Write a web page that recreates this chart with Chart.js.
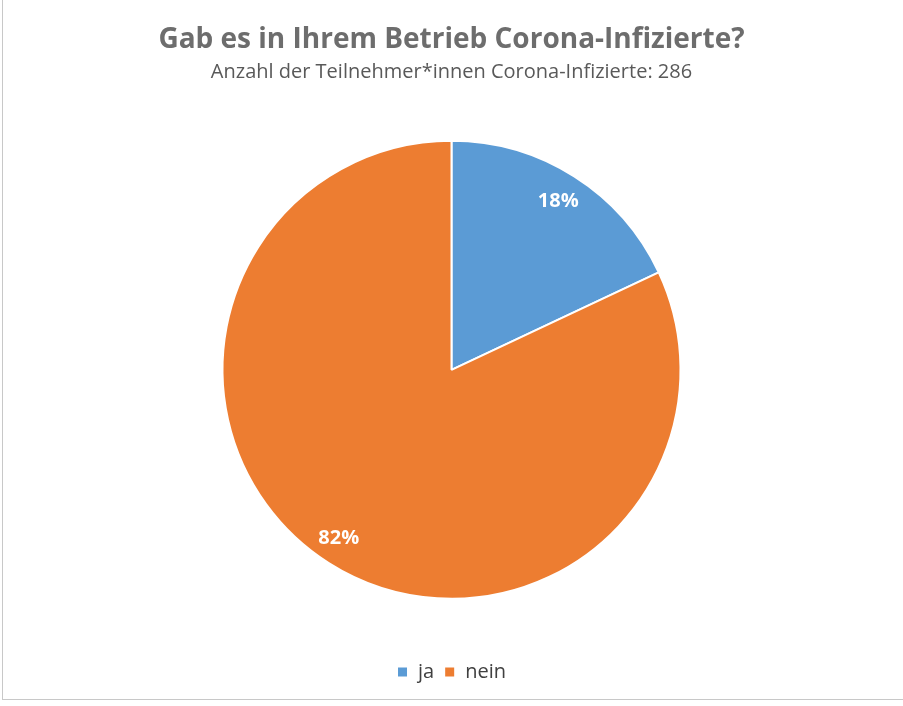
<!DOCTYPE html>
<html>
<head>
<meta charset="utf-8">
<script src="https://cdn.jsdelivr.net/npm/chart.js@4"></script>
<style>
    html, body { margin: 0; padding: 0; background: #fff; overflow: hidden; }
    #wrap { position: relative; width: 903px; height: 706px; }
    #frame { position: absolute; left: 2px; top: 0; width: 901px; height: 700px; box-sizing: border-box; border-left: 1px solid #c8c8c8; border-bottom: 1px solid #c8c8c8; pointer-events: none; }
    canvas { position: absolute; left: 0; top: 0; }
</style>
</head>
<body>
<div id="wrap"><canvas id="myChart" width="903" height="706"></canvas><div id="frame"></div></div>
<script>
    "use strict";

    // data
    let labels = ['ja', 'nein'];
    let percentValues = [18, 82];
    let sliceColors = ['#5B9BD5', '#ED7D31'];

    let titleText = 'Gab es in Ihrem Betrieb Corona-Infizierte?';
    let subtitleText = 'Anzahl der Teilnehmer*innen Corona-Infizierte: 286';

    /*percentage labels inside the slices*/
    let sliceLabels = {
        id: 'sliceLabels',
        afterDatasetsDraw(chart) {
            let ctx = chart.ctx;
            let meta = chart.getDatasetMeta(0);
            ctx.save();
            ctx.fillStyle = '#fff';
            ctx.font = 'bold 20px "Open Sans", sans-serif';
            ctx.textAlign = 'center';
            ctx.textBaseline = 'middle';
            meta.data.forEach((arc, i) => {
                let p = arc.getProps(['x', 'y', 'startAngle', 'endAngle', 'outerRadius']);
                let mid = (p.startAngle + p.endAngle) / 2;
                let r = p.outerRadius * 0.87;
                ctx.fillText(percentValues[i] + '%', p.x + Math.cos(mid) * r - (i === 1 ? 6 : 0), p.y + Math.sin(mid) * r);
            });
            ctx.restore();
        }
    };

    let ctx = document.getElementById('myChart').getContext('2d');

    let chart = new Chart(ctx, {
        type: 'pie',
        data: {
            labels: labels,
            datasets: [
                {
                    data: percentValues,
                    backgroundColor: sliceColors,
                    borderColor: '#fff',
                    borderWidth: 2,
                    radius: 229
                }
            ]
        },
        options: {
            responsive: false,
            animation: false,
            layout: {
                padding: { top: 0, bottom: 14, left: 0, right: 0 }
            },
            plugins: {
                title: {
                    display: true,
                    text: titleText,
                    color: '#6d6d6d',
                    font: { family: '"Open Sans", sans-serif', size: 28, weight: 'bold', lineHeight: 1.2 },
                    padding: { top: 23, bottom: 0 }
                },
                subtitle: {
                    display: true,
                    text: subtitleText,
                    color: '#595959',
                    font: { family: '"Open Sans", sans-serif', size: 20, lineHeight: 1.2 },
                    padding: { top: 4, bottom: 3 }
                },
                legend: {
                    position: 'bottom',
                    labels: {
                        color: '#404040',
                        font: { family: '"Open Sans", sans-serif', size: 20 },
                        boxWidth: 11,
                        boxHeight: 11,
                        padding: 10
                    }
                },
                tooltip: { enabled: false }
            }
        },
        plugins: [sliceLabels]
    });
</script>
</body>
</html>
